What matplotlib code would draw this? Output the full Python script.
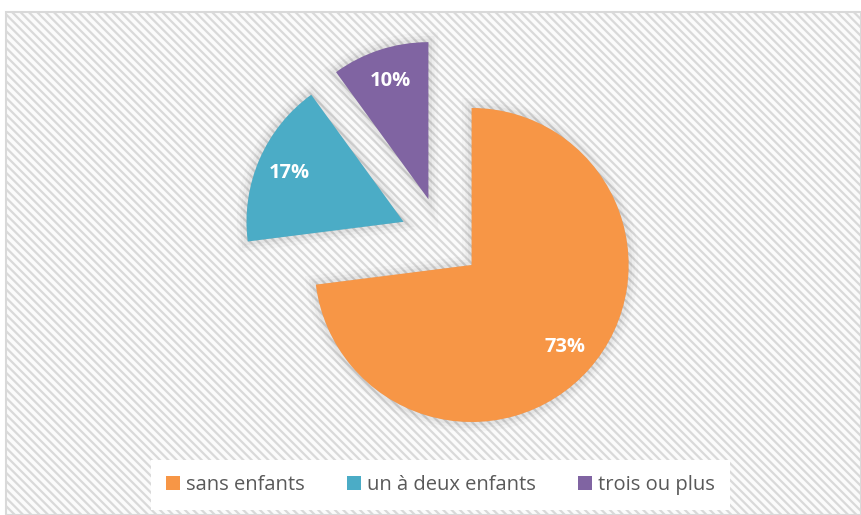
import matplotlib.pyplot as plt
from matplotlib.patches import Rectangle

# data
categories = ["sans enfants", "un à deux enfants", "trois ou plus"]
values = [73, 17, 10]
colors = ["#F79646", "#4BACC6", "#8064A2"]

plt.rcParams['font.family'] = ['Open Sans', 'DejaVu Sans']
plt.rcParams['hatch.color'] = '#f0f0f0'
plt.rcParams['hatch.linewidth'] = 1.6

W, H = 861, 515
fig = plt.figure(figsize=(W / 100, H / 100), dpi=100)
fig.patch.set_facecolor('white')

# axes fills the whole figure; one data unit = pie radius (157 px)
R = 157.0
cx, cy = 441.0, 238.0
ax = fig.add_axes([0, 0, 1, 1])

# chart area with diagonal stripes
bx0, by0 = 6.0, 12.0
bg = Rectangle(((bx0 - cx) / R, (cy - H) / R), (W - bx0) / R, (H - by0) / R,
               facecolor='#fbfbfb', edgecolor='#d9d9d9', hatch='\\\\\\\\',
               linewidth=1.5, zorder=0)
ax.add_patch(bg)

explode = [0.26] * len(values)

# soft shadow around slices
for lw, a in [(14, 0.025), (9, 0.03), (5, 0.035)]:
    ax.pie(values, explode=explode, startangle=90, counterclock=False,
           colors=['#000000'] * 3,
           wedgeprops=dict(edgecolor='#000000', linewidth=lw, alpha=a))

wedges, texts, autotexts = ax.pie(
    values, explode=explode, startangle=90, counterclock=False,
    colors=colors, autopct='%d%%', pctdistance=0.79,
    wedgeprops=dict(edgecolor='none', linewidth=0),
    textprops=dict(color='white', fontsize=14.5, fontweight='bold'))

ax.set_xlim(-cx / R, (W - cx) / R)
ax.set_ylim((cy - H) / R, cy / R)
ax.set_aspect('auto')
ax.axis('off')

leg = ax.legend(wedges, categories, loc='center', ncol=3,
                bbox_to_anchor=((143 + 738) / 2 / W, 1 - 485 / H),
                bbox_transform=fig.transFigure,
                frameon=True, fancybox=False, fontsize=14.5,
                handlelength=0.7, handleheight=0.7, handletextpad=0.3,
                columnspacing=2.1, borderpad=0.75, borderaxespad=0)
frame = leg.get_frame()
frame.set_facecolor('white')
frame.set_edgecolor('none')
frame.set_alpha(1)
for t in leg.get_texts():
    t.set_color('#595959')

fig.savefig('out.png', dpi=100)
